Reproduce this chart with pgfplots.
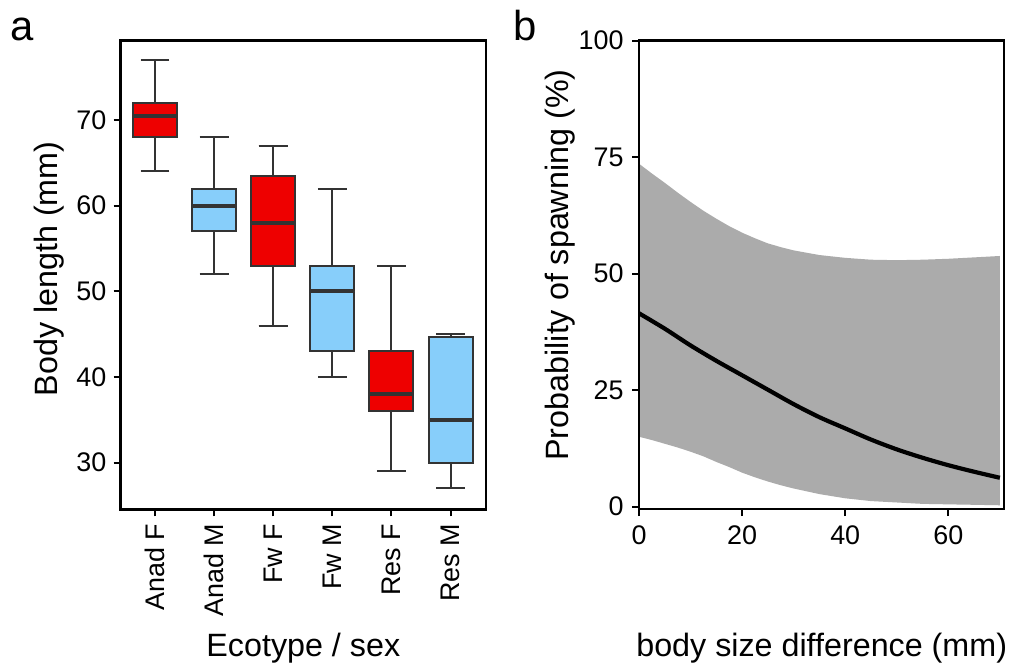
\documentclass[border=0pt]{standalone}
\usepackage{pgfplots}
\pgfplotsset{compat=1.18}
\usepgfplotslibrary{statistics}
\usepackage{fontspec}
\setmainfont{Liberation Sans}

\definecolor{boxred}{HTML}{EE0000}
\definecolor{boxblue}{HTML}{87CEFA}
\definecolor{boxline}{HTML}{333333}
\definecolor{bandgray}{HTML}{ABABAB}

\newcommand{\ticksize}{\fontsize{13.5}{16}\selectfont}
\newcommand{\labsize}{\fontsize{16.2}{19}\selectfont}

\pgfplotsset{
  panel/.style={
    scale only axis,
    axis line style={line width=1.25bp},
    tick style={line width=1bp, black},
    major tick length=3.5bp,
    tick align=outside,
    xtick pos=bottom, ytick pos=left,
    ticklabel style={font=\ticksize, inner sep=0pt},
    /pgf/number format/assume math mode=true,
  },
  mybox/.style={
    draw=boxline, line width=1bp, solid,
    boxplot/draw direction=y,
    boxplot/box extend=0.745,
    boxplot/whisker extend=0.49,
    boxplot/every median/.style={line width=1.9bp},
  },
}

\begin{document}
\begin{tikzpicture}
\path[use as bounding box] (0,0) rectangle (505.5bp,-333bp);

% panel a: boxplots
\begin{axis}[panel,
  at={(60.35bp,-254.65bp)}, anchor=south west,
  width=182.65bp, height=234.3bp,
  xmin=0.42, xmax=6.6, ymin=24.56, ymax=79.26,
  xtick={1,2,3,4,5,6},
  xticklabels={Anad F,Anad M,Fw F,Fw M,Res F,Res M},
  xticklabel style={rotate=90, anchor=east},
  ytick={30,40,50,60,70},
  xticklabel shift=3.5bp, yticklabel shift=3.5bp,
]
\addplot[mybox, fill=boxred, boxplot prepared={draw position=1,
  lower whisker=64, lower quartile=68, median=70.5, upper quartile=72, upper whisker=77}] coordinates {};
\addplot[mybox, fill=boxblue, boxplot prepared={draw position=2,
  lower whisker=52, lower quartile=57, median=60, upper quartile=62, upper whisker=68}] coordinates {};
\addplot[mybox, fill=boxred, boxplot prepared={draw position=3,
  lower whisker=46, lower quartile=53, median=58, upper quartile=63.5, upper whisker=67}] coordinates {};
\addplot[mybox, fill=boxblue, boxplot prepared={draw position=4,
  lower whisker=40, lower quartile=43, median=50, upper quartile=53, upper whisker=62}] coordinates {};
\addplot[mybox, fill=boxred, boxplot prepared={draw position=5,
  lower whisker=29, lower quartile=36, median=38, upper quartile=43, upper whisker=53}] coordinates {};
\addplot[mybox, fill=boxblue, boxplot prepared={draw position=6,
  lower whisker=27, lower quartile=30, median=35, upper quartile=44.7, upper whisker=45}] coordinates {};
\end{axis}

% panel b: fitted probability with confidence band
\begin{axis}[panel,
  at={(319.5bp,-254.5bp)}, anchor=south west,
  width=182.5bp, height=234.15bp,
  xmin=0, xmax=70.8, ymin=-0.5, ymax=100,
  xtick={0,20,40,60}, ytick={0,25,50,75,100},
  xticklabel shift=4.5bp, yticklabel shift=4bp,
  axis on top,
]
% band: upper limit left to right, then lower limit right to left
\addplot[fill=bandgray, draw=none] coordinates {
  (0,73.6) (2.5,71.5) (5,69.5) (7.5,67.4) (10,65.4) (12.5,63.5) (15,61.8) (17.5,60.2)
  (20,58.8) (22.5,57.6) (25,56.5) (27.5,55.7) (30,55.0) (35,54.0)
  (40,53.4) (45,53.0) (50,52.9) (55,53.0) (60,53.2) (65,53.5) (70,53.8)
  (70,0.3) (65,0.4) (60,0.5) (55,0.6) (50,0.9) (45,1.2) (40,1.8) (35,2.7)
  (30,3.9) (27.5,4.6) (25,5.4) (22.5,6.3) (20,7.3) (17.5,8.5) (15,9.6) (12.5,10.8)
  (10,11.8) (7.5,12.7) (5,13.5) (2.5,14.3) (0,15.0)} -- cycle;
\addplot[black, line width=2.1bp, smooth] coordinates {
  (0,41.5) (5,38.2) (10,34.6) (15,31.3) (20,28.2) (25,25.1) (30,22.0) (35,19.2)
  (40,16.8) (45,14.4) (50,12.3) (55,10.5) (60,8.9) (65,7.5) (70,6.2)};
\end{axis}

% panel letters and axis titles
\node[anchor=base west, inner sep=0pt, font=\fontsize{21}{24}\selectfont] at (5bp,-20bp) {a};
\node[anchor=base west, inner sep=0pt, font=\fontsize{21}{24}\selectfont] at (256.5bp,-20bp) {b};
\node[rotate=90, anchor=base, inner sep=0pt, font=\labsize] at (28.5bp,-134.5bp) {Body length (mm)};
\node[rotate=90, anchor=base, inner sep=0pt, font=\labsize] at (284bp,-132.5bp) {Probability of spawning (\%)};
\node[anchor=base, inner sep=0pt, font=\labsize] at (151.65bp,-328.35bp) {Ecotype / sex};
\node[anchor=base, inner sep=0pt, font=\labsize] at (410.85bp,-328.35bp) {body size difference (mm)};
\end{tikzpicture}
\end{document}
